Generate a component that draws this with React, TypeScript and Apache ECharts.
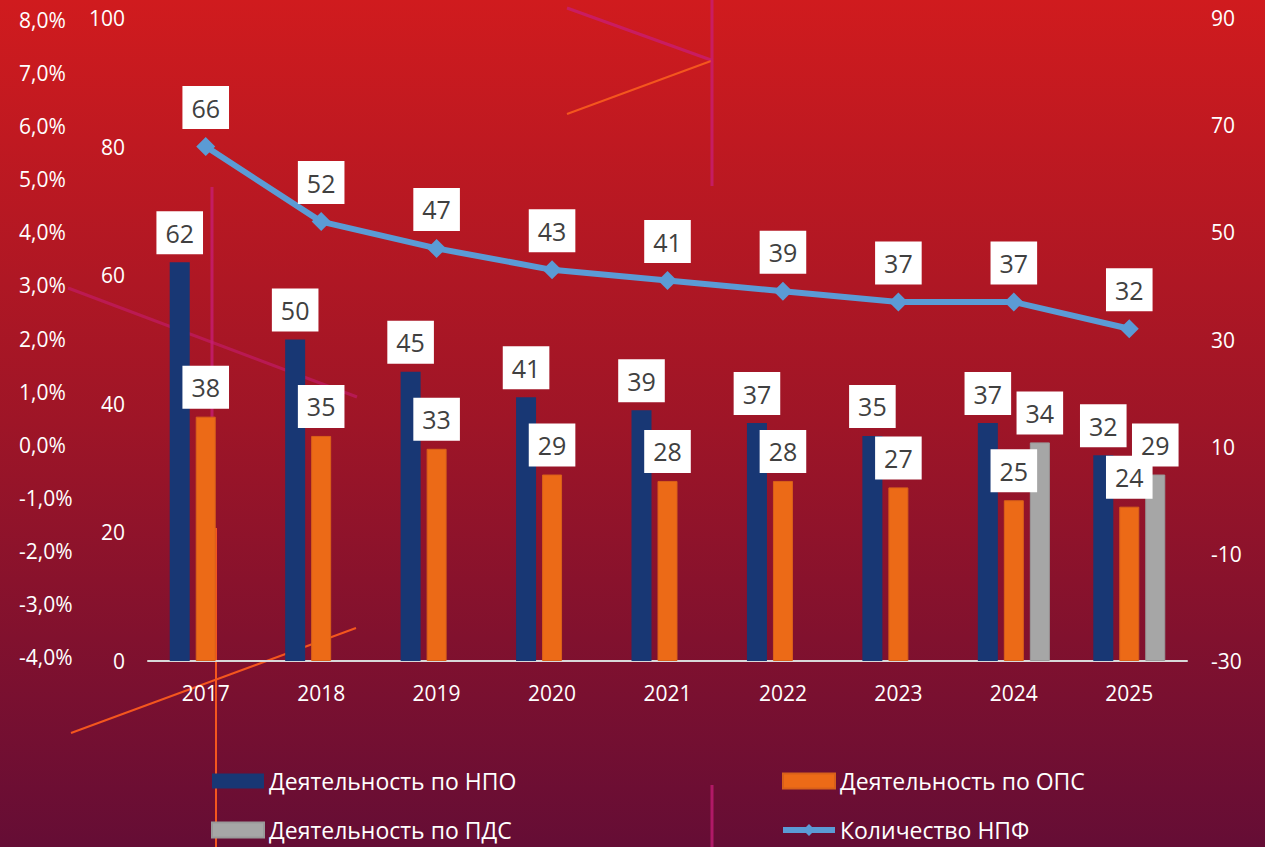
import React, { useEffect, useRef } from "react";
import * as echarts from "echarts";

const years = ["2017", "2018", "2019", "2020", "2021", "2022", "2023", "2024", "2025"];
const npoValues = [62, 50, 45, 41, 39, 37, 35, 37, 32];
const opsValues = [38, 35, 33, 29, 28, 28, 27, 25, 24];
const pdsValues = [null, null, null, null, null, null, null, 34, 29];
const npfCount = [66, 52, 47, 43, 41, 39, 37, 37, 32];

const seriesNames = [
  "Деятельность по НПО",
  "Деятельность по ОПС",
  "Деятельность по ПДС",
  "Количество НПФ",
];

// axis ranges (tick labels)
const barAxis = { min: 0, max: 100, interval: 20 };
const lineAxis = { min: -30, max: 90, interval: 20 };
const pctAxis = { min: -4, max: 8, interval: 1 };

const FONT = "Open Sans";

export default function App() {
  const ref = useRef<HTMLDivElement>(null);

  useEffect(() => {
    if (!ref.current) return;
    const chart = echarts.init(ref.current, null, { renderer: "svg" });

    const labelBox = {
      show: true,
      position: "top",
      backgroundColor: "#FFFFFF",
      color: "#404040",
      fontSize: 25,
      fontFamily: FONT,
      lineHeight: 27,
      padding: [8, 9, 8, 9],
    };

    const axisLabelStyle = {
      color: "#FFFFFF",
      fontSize: 21,
      fontFamily: FONT,
    };

    const legendText = { color: "#FFFFFF", fontSize: 23, fontFamily: FONT, lineHeight: 26 };

    const magenta = "rgba(200,30,120,0.75)";
    const orangeLine = "#F4561E";
    const deco = (x1: number, y1: number, x2: number, y2: number, color: string, w: number) => ({
      type: "line",
      z: 0,
      silent: true,
      shape: { x1, y1, x2, y2 },
      style: { stroke: color, lineWidth: w },
    });

    const option: any = {
      animation: false,
      backgroundColor: {
        type: "linear",
        x: 0,
        y: 0,
        x2: 0,
        y2: 1,
        colorStops: [
          { offset: 0, color: "#D01B1E" },
          { offset: 0.5, color: "#9E1527" },
          { offset: 1, color: "#650D35" },
        ],
      },
      textStyle: { fontFamily: FONT },
      graphic: [
        deco(567, 8, 711, 60, magenta, 3),
        deco(567, 114, 711, 61, orangeLine, 2),
        deco(712, 0, 712, 186, magenta, 3),
        deco(212, 187, 212, 528, magenta, 3),
        deco(216, 528, 216, 847, orangeLine, 2),
        deco(68, 288, 357, 397, "rgba(200,30,120,0.55)", 3),
        deco(71, 733, 356, 628, orangeLine, 2),
        deco(712, 785, 712, 847, magenta, 3),
      ],
      grid: [
        { left: 148, right: 78, top: 18, bottom: 186, containLabel: false },
        { left: 148, right: 78, top: 20, bottom: 190, containLabel: false },
      ],
      legend: [
        {
          data: [
            { name: seriesNames[0], icon: "rect" },
            { name: seriesNames[2], icon: "rect" },
          ],
          orient: "vertical",
          left: 211,
          top: 768,
          padding: 0,
          itemWidth: 52,
          itemHeight: 15,
          itemGap: 23,
          selectedMode: false,
          textStyle: legendText,
        },
        {
          data: [
            { name: seriesNames[1], icon: "rect" },
            { name: seriesNames[3] },
          ],
          orient: "vertical",
          left: 780,
          top: 768,
          padding: 0,
          itemWidth: 52,
          itemHeight: 15,
          itemGap: 23,
          selectedMode: false,
          lineStyle: { width: 6 },
          textStyle: legendText,
        },
      ],
      xAxis: [
        {
          type: "category",
          gridIndex: 0,
          data: years,
          axisLine: { show: true, lineStyle: { color: "#D9D9D9", width: 2 } },
          axisTick: { show: false },
          axisLabel: { ...axisLabelStyle, margin: 21 },
        },
        {
          type: "category",
          gridIndex: 1,
          data: years,
          show: false,
        },
      ],
      yAxis: [
        {
          type: "value",
          gridIndex: 0,
          position: "left",
          min: barAxis.min,
          max: barAxis.max,
          interval: barAxis.interval,
          axisLine: { show: false },
          axisTick: { show: false },
          splitLine: { show: false },
          axisLabel: { ...axisLabelStyle, margin: 23 },
        },
        {
          type: "value",
          gridIndex: 0,
          position: "right",
          min: lineAxis.min,
          max: lineAxis.max,
          interval: lineAxis.interval,
          axisLine: { show: false },
          axisTick: { show: false },
          splitLine: { show: false },
          axisLabel: { ...axisLabelStyle, margin: 24 },
        },
        {
          type: "value",
          gridIndex: 1,
          position: "left",
          min: pctAxis.min,
          max: pctAxis.max,
          interval: pctAxis.interval,
          axisLine: { show: false },
          axisTick: { show: false },
          splitLine: { show: false },
          axisLabel: {
            ...axisLabelStyle,
            align: "left",
            margin: 129,
            formatter: (v: number) => v.toFixed(1).replace(".", ",") + "%",
          },
        },
      ],
      series: [
        {
          name: seriesNames[0],
          type: "bar",
          xAxisIndex: 0,
          yAxisIndex: 0,
          data: npoValues,
          barWidth: 20,
          barGap: "30%",
          itemStyle: { color: "#183774" },
          label: { ...labelBox, distance: 8 },
          z: 3,
        },
        {
          name: seriesNames[1],
          type: "bar",
          xAxisIndex: 0,
          yAxisIndex: 0,
          data: opsValues,
          barWidth: 20,
          barGap: "30%",
          itemStyle: { color: "#EC6A17", borderColor: "#D8601A", borderWidth: 1 },
          label: { ...labelBox, distance: 8 },
          z: 3,
        },
        {
          name: seriesNames[2],
          type: "bar",
          xAxisIndex: 0,
          yAxisIndex: 0,
          data: pdsValues,
          barWidth: 20,
          barGap: "30%",
          itemStyle: { color: "#A6A6A6", borderColor: "#999999", borderWidth: 1 },
          label: { ...labelBox, distance: 8 },
          z: 3,
        },
        {
          name: seriesNames[3],
          type: "line",
          xAxisIndex: 0,
          yAxisIndex: 1,
          data: npfCount,
          symbol: "diamond",
          symbolSize: 19,
          lineStyle: { color: "#5B9BD5", width: 6 },
          itemStyle: { color: "#5B9BD5" },
          label: { ...labelBox, distance: 8 },
          z: 4,
        },
      ],
    };

    chart.setOption(option);
    return () => chart.dispose();
  }, []);

  return (
    <div
      ref={ref}
      style={{ position: "fixed", left: 0, top: 0, width: 1265, height: 847 }}
    />
  );
}
